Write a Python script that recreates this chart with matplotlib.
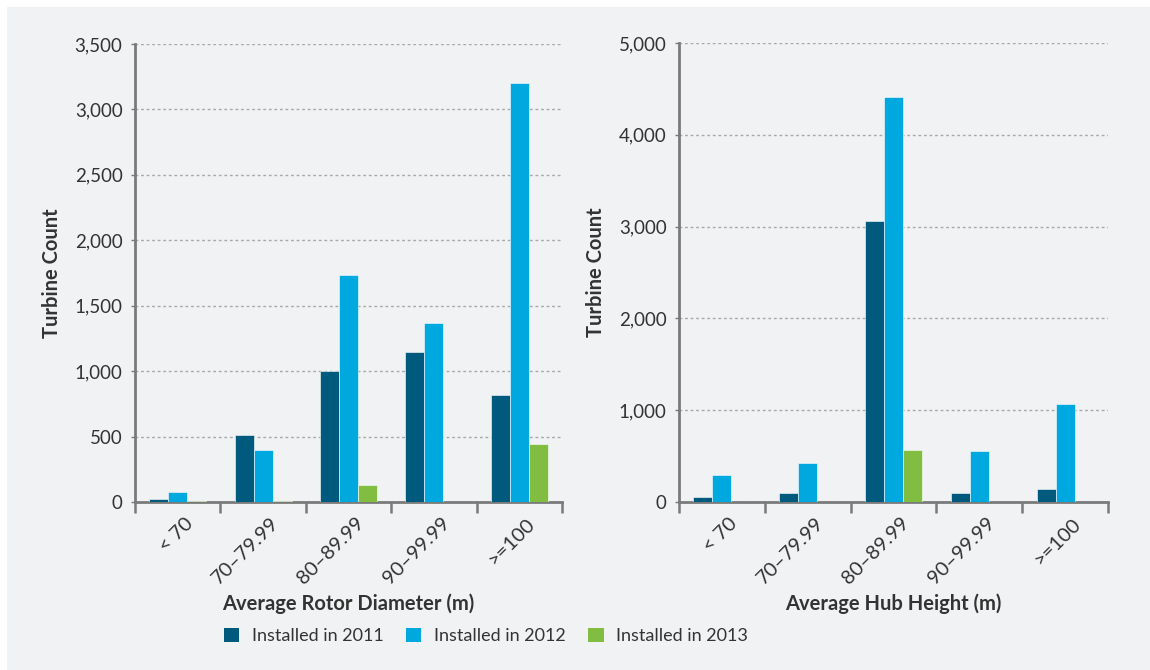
import matplotlib
matplotlib.use("Agg")
import matplotlib.pyplot as plt
import numpy as np
from matplotlib.patches import Rectangle, Patch

categories = ["< 70", "70\u201379.99", "80\u201389.99", "90\u201399.99", ">=100"]
series_names = ["Installed in 2011", "Installed in 2012", "Installed in 2013"]

rotor_2011 = [25, 512, 1000, 1150, 820]
rotor_2012 = [80, 400, 1735, 1370, 3200]
rotor_2013 = [8, 8, 132, 0, 440]

hub_2011 = [58, 101, 3060, 101, 145]
hub_2012 = [290, 425, 4410, 556, 1068]
hub_2013 = [0, 0, 570, 0, 0]

colors = ["#005a7d", "#00a8e0", "#80bd41"]
text_color = "#333333"
spine_color = "#7a7a7a"
bg = "#f1f2f4"

plt.rcParams['font.family'] = ['Lato', 'DejaVu Sans']

fig = plt.figure(figsize=(11.5, 6.7), dpi=100)
fig.patch.set_facecolor("white")
fig.patches.append(Rectangle((7/1150, 0), 1 - 7/1150, 1 - 7/670, transform=fig.transFigure,
                             facecolor=bg, edgecolor="none", zorder=-10))

W, H = 1150, 670
def axrect(x0, y0, x1, y1):
    return [x0 / W, 1 - y1 / H, (x1 - x0) / W, (y1 - y0) / H]

ax1 = fig.add_axes(axrect(135, 44, 562, 502))
ax2 = fig.add_axes(axrect(679, 43, 1108, 502))

def draw(ax, data, ymax, step, xlabel):
    ax.set_facecolor(bg)
    x = np.arange(len(categories))
    bw = 0.222
    for i, (vals, c) in enumerate(zip(data, colors)):
        ax.bar(x + (i - 1) * bw, vals, width=bw, color=c, edgecolor="#ffffff",
               linewidth=0.4, zorder=3, label=series_names[i])
    ax.set_xlim(-0.5, len(categories) - 0.5)
    ax.set_ylim(0, ymax)
    ticks = np.arange(0, ymax + 1, step)
    ax.set_yticks(ticks)
    ax.set_yticklabels([f"{int(t):,}" for t in ticks], fontsize=13.5, color=text_color)
    ax.yaxis.grid(True, linestyle=(0, (2, 2)), color="#a8a8a8", linewidth=1.0, zorder=0)
    ax.set_axisbelow(True)
    ax.set_xticks(np.arange(-0.5, len(categories), 1.0))
    ax.set_xticklabels([])
    ax.tick_params(axis="x", length=8, width=1.8, color=spine_color, direction="out")
    ax.tick_params(axis="y", length=3, width=1.0, color=spine_color, pad=6)
    for xi, lab in zip(x, categories):
        ax.annotate(lab, xy=(xi + 0.08, 0), xycoords=("data", "axes fraction"),
                    xytext=(0, -9), textcoords="offset points",
                    rotation=45, ha="right", va="top", rotation_mode="anchor",
                    fontsize=14.5, color=text_color)
    for s in ["top", "right"]:
        ax.spines[s].set_visible(False)
    for s in ["left", "bottom"]:
        ax.spines[s].set_color(spine_color)
        ax.spines[s].set_linewidth(2.0)
    ax.set_ylabel("Turbine Count", fontsize=14.5, fontweight="bold", color=text_color, labelpad=9)
    ax.set_xlabel(xlabel, fontsize=14.5, fontweight="bold", color=text_color, labelpad=54)

draw(ax1, [rotor_2011, rotor_2012, rotor_2013], 3500, 500, "Average Rotor Diameter (m)")
draw(ax2, [hub_2011, hub_2012, hub_2013], 5000, 1000, "Average Hub Height (m)")

handles = [Patch(facecolor=c, edgecolor="none") for c in colors]
leg = fig.legend(handles, series_names, loc="center", bbox_to_anchor=(486 / W, 1 - 636 / H),
                 ncol=3, frameon=False, fontsize=13, handlelength=0.85, handleheight=0.85,
                 columnspacing=1.25, handletextpad=0.7)
for t in leg.get_texts():
    t.set_color(text_color)

fig.savefig("out.png", dpi=100, facecolor=fig.get_facecolor())
